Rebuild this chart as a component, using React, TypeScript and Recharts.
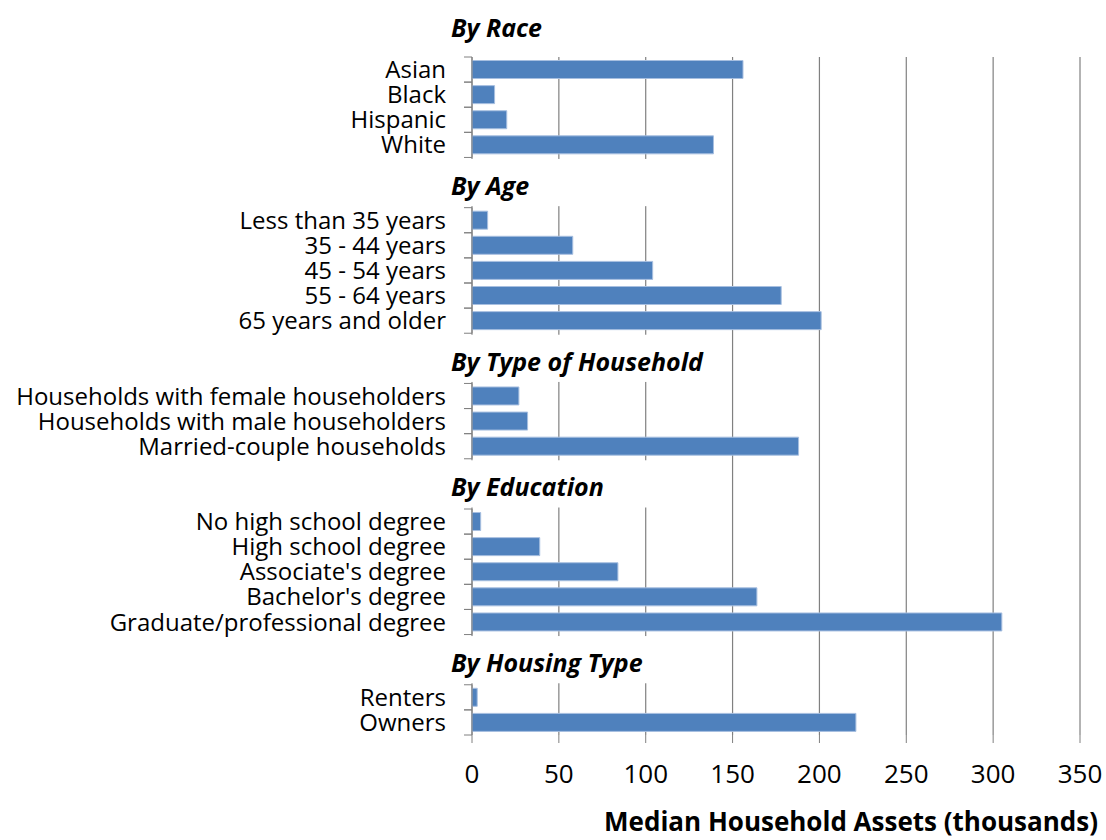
import React from 'react';
import { BarChart, Bar, XAxis, YAxis, CartesianGrid } from 'recharts';

const FONT = '"Open Sans", "DejaVu Sans", sans-serif';
const BAR_COLOR = '#4F81BD';
const GRID_COLOR = '#808080';

// group headers, in drawing order
const groupHeaders = ['By Race', 'By Age', 'By Type of Household', 'By Education', 'By Housing Type'];

const raceLabels = ['Asian', 'Black', 'Hispanic', 'White'];
const raceValues = [156, 13, 20, 139];

const ageLabels = ['Less than 35 years', '35 - 44 years', '45 - 54 years', '55 - 64 years', '65 years and older'];
const ageValues = [9, 58, 104, 178, 201];

const householdLabels = ['Households with female householders', 'Households with male householders', 'Married-couple households'];
const householdValues = [27, 32, 188];

const educationLabels = ['No high school degree', 'High school degree', "Associate's degree", "Bachelor's degree", 'Graduate/professional degree'];
const educationValues = [5, 39, 84, 164, 305];

const housingLabels = ['Renters', 'Owners'];
const housingValues = [3, 221];

const xTicks = [0, 50, 100, 150, 200, 250, 300, 350];

type Row = { id: string; label: string; value: number | null; header?: string; item: boolean };

const groups = [
  { labels: raceLabels, values: raceValues },
  { labels: ageLabels, values: ageValues },
  { labels: householdLabels, values: householdValues },
  { labels: educationLabels, values: educationValues },
  { labels: housingLabels, values: housingValues },
];

// two empty slots between groups leave room for the next header
const rows: Row[] = [];
groups.forEach((g, gi) => {
  if (gi > 0) {
    rows.push({ id: `gap${gi}a`, label: '', value: null, header: groupHeaders[gi], item: false });
    rows.push({ id: `gap${gi}b`, label: '', value: null, item: false });
  }
  g.labels.forEach((label, i) => {
    rows.push({
      id: `g${gi}-${i}`,
      label,
      value: g.values[i],
      header: gi === 0 && i === 0 ? groupHeaders[0] : undefined,
      item: true,
    });
  });
});
const rowById: Record<string, Row> = Object.fromEntries(rows.map(r => [r.id, r]));

const WIDTH = 1106;
const HEIGHT = 840;
const AXIS_X = 472;
const MARGIN = { top: 57, right: 26, bottom: 45, left: 0 };
const X_AXIS_HEIGHT = 60;
const PLOT_H = HEIGHT - MARGIN.top - MARGIN.bottom - X_AXIS_HEIGHT;
const PITCH = PLOT_H / rows.length;

function CategoryTick(props: any) {
  const { y, payload } = props;
  const row = rowById[payload.value];
  if (!row) return null;
  const half = PITCH / 2;
  if (!row.item) {
    if (!row.header) return null;
    // white panel hides the grid behind the header text
    return (
      <g>
        <rect x={AXIS_X - 3} y={y - half + 1.5} width={235} height={PITCH * 2 - 3} fill="#fff" />
        <text x={451} y={y + half + 2.5} dominantBaseline="central" fontFamily={FONT} fontSize={25}
          fontWeight="bold" fontStyle="italic" fill="#000">{row.header}</text>
      </g>
    );
  }
  return (
    <g>
      {row.header && (
        <text x={451} y={y - half - 30} dominantBaseline="central" fontFamily={FONT} fontSize={25}
          fontWeight="bold" fontStyle="italic" fill="#000">{row.header}</text>
      )}
      <line x1={AXIS_X} x2={AXIS_X} y1={y - half} y2={y + half} stroke={GRID_COLOR} />
      <line x1={AXIS_X - 8} x2={AXIS_X} y1={y - half} y2={y - half} stroke={GRID_COLOR} />
      <line x1={AXIS_X - 8} x2={AXIS_X} y1={y + half} y2={y + half} stroke={GRID_COLOR} />
      <text x={446} y={y - 1} textAnchor="end" dominantBaseline="central" fontFamily={FONT} fontSize={24} fill="#000">
        {row.label}
      </text>
    </g>
  );
}

function AxisTitle(props: any) {
  const { viewBox } = props;
  return (
    <text x={viewBox.x + viewBox.width + 18} y={viewBox.y + 96} textAnchor="end" fontFamily={FONT}
      fontSize={26} fontWeight="bold" fill="#000">
      Median Household Assets (thousands)
    </text>
  );
}

export default function App() {
  return (
    <div style={{ position: 'absolute', left: 0, top: 0, background: '#fff' }}>
      <BarChart width={WIDTH} height={HEIGHT} data={rows} layout="vertical" margin={MARGIN} barCategoryGap="14%">
        <CartesianGrid horizontal={false} stroke={GRID_COLOR} strokeWidth={1.2} />
        <XAxis type="number" domain={[0, 350]} ticks={xTicks} axisLine={false} tickSize={8}
          tickLine={{ stroke: GRID_COLOR }} tickMargin={22} height={X_AXIS_HEIGHT}
          tick={{ fontSize: 26, fill: '#000', fontFamily: FONT }} label={<AxisTitle />} />
        <YAxis type="category" dataKey="id" width={AXIS_X} axisLine={false} tickLine={false} interval={0}
          tick={(p: any) => <CategoryTick {...p} />} />
        <Bar dataKey="value" fill={BAR_COLOR} stroke="#a7bfe0" strokeWidth={1} isAnimationActive={false} />
      </BarChart>
    </div>
  );
}
